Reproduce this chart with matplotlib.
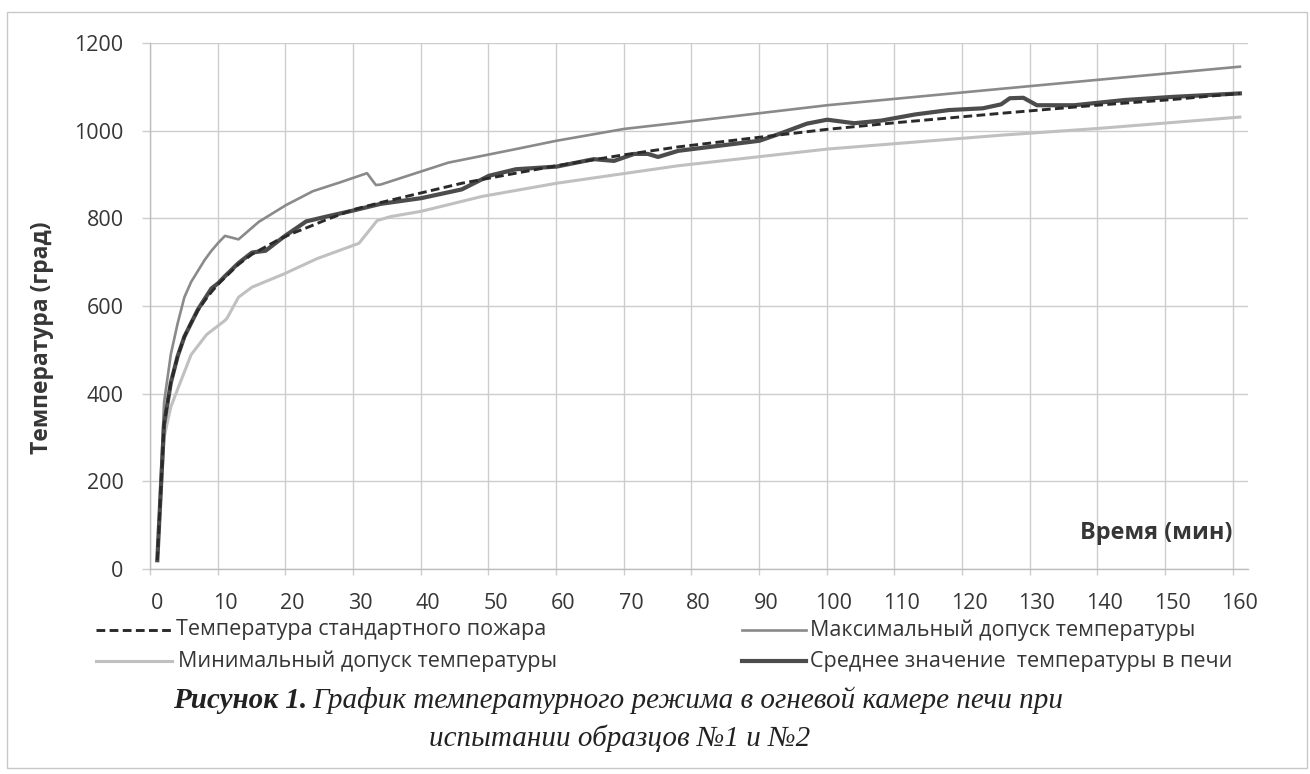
import matplotlib
matplotlib.use("Agg")
import matplotlib.pyplot as plt
from matplotlib.lines import Line2D
from matplotlib.patches import Rectangle
import numpy as np

# ---------------- data ----------------
std_t = [0, 1, 2, 3, 4, 5, 6, 7, 8, 9, 10, 12, 14, 16, 18, 20, 22, 25, 29, 33, 39, 45,
         53, 59, 69, 77, 89, 99, 109, 125, 138, 150, 160]
std_v = [20, 330, 425, 485, 530, 562, 590, 612, 632, 650, 665, 695, 718, 735, 752, 766, 778,
         797, 820, 836, 858, 880, 903, 920, 945, 963, 985, 1003, 1018, 1040, 1057, 1071, 1085]

max_t = [0, 1, 2, 3, 4, 5, 6, 7, 8, 9, 10, 12, 15, 19, 23, 27, 31, 32.3, 33, 43, 53, 59,
         69, 77, 99, 123, 139, 160]
max_v = [20, 380, 490, 560, 620, 655, 680, 705, 726, 744, 760, 752, 792, 830, 862, 882, 903,
         876, 877, 927, 958, 977, 1004, 1018, 1058, 1093, 1116, 1146]

min_t = [0, 1, 2, 3, 5, 7.3, 10, 10.3, 12, 14, 18.7, 23.6, 29.8, 32.5, 34.5, 39, 48, 59,
         77, 99, 125, 139, 160]
min_v = [20, 300, 370, 410, 489, 535, 567, 572, 620, 643, 673, 708, 743, 795, 804, 816, 850,
         880, 920, 958, 990, 1005, 1031]

mean_t = [0, 1, 2, 3, 4, 6, 8, 9, 10, 12, 14, 16, 18.7, 22, 25, 29, 33, 39, 45, 49, 53, 59,
          64.5, 67.5, 70.5, 72.5, 74, 77, 89, 92, 96, 99, 103, 107, 112, 117, 122, 124.7,
          126, 128, 130, 135.5, 143, 150, 160]
mean_v = [20, 330, 425, 485, 530, 592, 640, 652, 668, 698, 722, 726, 758, 793, 804, 818, 833,
          846, 866, 897, 912, 918, 935, 931, 947, 947, 940, 954, 977, 993, 1016, 1025, 1017,
          1023, 1037, 1047, 1051, 1060, 1074, 1075, 1058, 1058, 1070, 1077, 1085]

x_ticks = list(range(0, 161, 10))
y_ticks = list(range(0, 1201, 200))

labels = ["Температура стандартного пожара", "Максимальный допуск температуры",
          "Минимальный допуск температуры", "Среднее значение  температуры в печи"]
x_title = "Время (мин)"
y_title = "Температура (град)"
cap_bold = "Рисунок 1."
cap_line1 = "График температурного режима в огневой камере печи при"
cap_line2 = "испытании образцов №1 и №2"

# ---------------- styling ----------------
W, H = 1310, 774
FONT = "Open Sans"
TXT = "#363636"
GRID = "#cdcdcd"
C_STD, C_MAX, C_MIN, C_MEAN = "#2a2a2a", "#8a8a8a", "#c0c0c0", "#4c4c4c"
LW_STD, LW_MAX, LW_MIN, LW_MEAN = 2.1, 1.9, 2.2, 3.0
DASH = (0, (3, 1.5))

def fx(px):
    return px / W

def fy(py):
    return 1 - py / H

fig = plt.figure(figsize=(W / 100, H / 100), dpi=100)
fig.patch.set_facecolor("white")

left, right, top, bottom = 150, 1248, 43, 569
ax = fig.add_axes([fx(left), fy(bottom), fx(right) - fx(left), fy(top) - fy(bottom)])

ax.plot(min_t, min_v, color=C_MIN, lw=LW_MIN, zorder=3)
ax.plot(max_t, max_v, color=C_MAX, lw=LW_MAX, zorder=3)
ax.plot(mean_t, mean_v, color=C_MEAN, lw=LW_MEAN, zorder=4)
ax.plot(std_t, std_v, color=C_STD, lw=LW_STD, ls=DASH, zorder=5)

ax.set_xlim(-1.03, 161.2)
ax.set_ylim(0, 1200)

ax.set_xticks(x_ticks)
ax.set_xticklabels([str(v) for v in x_ticks])
grid_x = [v - 1.08 for v in x_ticks]
ax.set_xticks(grid_x, minor=True)
ax.set_yticks(y_ticks)
ax.set_yticklabels([str(v) for v in y_ticks])

ax.grid(True, which="minor", axis="x", color=GRID, lw=1.0)
ax.grid(True, which="major", axis="y", color=GRID, lw=1.0)
ax.grid(False, which="major", axis="x")

ax.tick_params(axis="x", which="major", length=0, pad=17, labelsize=15.5, labelcolor=TXT)
ax.tick_params(axis="x", which="minor", length=4, width=1, color=GRID, direction="out")
ax.tick_params(axis="y", which="major", length=6, width=1, color=GRID, direction="out",
               pad=13, labelsize=15.5, labelcolor=TXT)
for lab in ax.get_xticklabels() + ax.get_yticklabels():
    lab.set_fontfamily(FONT)

for s in ["top", "right"]:
    ax.spines[s].set_visible(False)
for s in ["left", "bottom"]:
    ax.spines[s].set_color("#bdbdbd")
    ax.spines[s].set_linewidth(1.0)

# axis titles
fig.text(fx(42), fy(338), y_title, rotation=90, ha="center", va="center",
         fontsize=16.5, fontweight="bold", family=FONT, color=TXT)
fig.text(fx(1232), fy(533), x_title, ha="right", va="center",
         fontsize=16.8, fontweight="bold", family=FONT, color=TXT)

# legend (manual, two columns)
leg_rows = [
    (96, 172, 630, C_STD, LW_STD, DASH, labels[0], 176),
    (742, 806, 630, C_MAX, LW_MAX, "-", labels[1], 810),
    (96, 172, 661, C_MIN, LW_MIN, "-", labels[2], 178),
    (742, 806, 661, C_MEAN, LW_MEAN, "-", labels[3], 810),
]
for x0, x1, yy, c, lw, ls, txt, tx in leg_rows:
    fig.add_artist(Line2D([fx(x0), fx(x1)], [fy(yy), fy(yy)], color=c, lw=lw, ls=ls,
                          transform=fig.transFigure))
    fig.text(fx(tx), fy(yy), txt, ha="left", va="center", fontsize=15.5,
             family=FONT, color=TXT)

# caption
SERIF = "Liberation Serif"
CAP_FS = 21
r = fig.canvas.get_renderer()
tb = fig.text(0, fy(700), cap_bold, ha="left", va="center", fontsize=CAP_FS,
              fontweight="bold", fontstyle="italic", family=SERIF, color="#222222")
tr = fig.text(0, fy(700), cap_line1, ha="left", va="center", fontsize=CAP_FS,
              fontstyle="italic", family=SERIF, color="#222222")
wb = tb.get_window_extent(r).width
wr = tr.get_window_extent(r).width
gap = CAP_FS * 0.25
total = wb + gap + wr
xs = 618 - total / 2
tb.set_x(fx(xs))
tr.set_x(fx(xs + wb + gap))
fig.text(fx(620), fy(738), cap_line2, ha="center", va="center", fontsize=CAP_FS,
         fontstyle="italic", family=SERIF, color="#222222")

# outer frame
fig.add_artist(Rectangle((fx(7), fy(768)), fx(1307) - fx(7), fy(12) - fy(768),
                         transform=fig.transFigure, fill=False, ec="#c8c8c8", lw=1.0))

fig.savefig("out.png", dpi=100, facecolor="white")
